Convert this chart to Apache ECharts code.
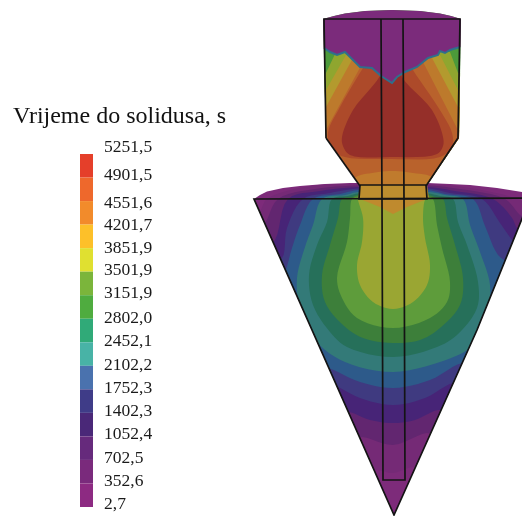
<!DOCTYPE html>
<html>
<head>
<meta charset="utf-8">
<style>html,body{margin:0;padding:0;background:#fff}#c{width:522px;height:516px}</style>
<script src="https://cdn.jsdelivr.net/npm/echarts@6/dist/echarts.min.js"></script>
</head>
<body>
<div id="c"></div>
<script>
// colour scale
const scaleTitle = 'Vrijeme do solidusa, s';
const scaleValues = [5251.5,4901.5,4551.6,4201.7,3851.9,3501.9,3151.9,2802.0,2452.1,2102.2,1752.3,1402.3,1052.4,702.5,352.6,2.7];
const scaleColors = ['#e53f2a','#ee682c','#f28b2b','#fdc029','#e0e030','#7bb53b','#4fac3f','#30aa78','#48b3a6','#4a72ae','#3f3c88','#4a2878','#662a7c','#7a2a7c','#8d2a82'];

// casting outline (section coordinates)
const coneOutline = [[254,199],[260,195],[267,191.5],[283,188],[300,186],[325,184],[350,183],[427,183],[450,184],[470,185],[497,188],[522,192],[530,199],[477,330],[394,515]];
const feederOutline = [[323,19],[334,16],[345,13.5],[365,11],[392,10],[420,11],[440,13.5],[451,16],[461,19],[459,138],[427,185],[360,185],[326,138]];
const neckOutline = [[360,185],[427,185],[429,199],[358,199]];

// isochrone contours of the lower cone, coldest to hottest
const coneColors = ['#7d2b7a','#752a76','#622670','#472477','#3f3a80','#2d5a8a','#337a78','#26705a','#3d7f3a','#5e9c3b','#9aa633','#bf8a2e'];
const cone1 = [[358,184],[310,186],[267,199],[260,211],[245,225],[350,470],[377,470],[393,473],[413,467],[425,470],[535,210],[517,199],[470,188],[428,184]];
const cone2 = [[358,185.5],[315,189],[278,199],[265,223],[250,240],[340,440],[362,437],[393,445],[427,433],[440,436],[535,225],[520,215],[505,199],[460,189],[428,185.5]];
const cone3 = [[358,187],[320,191],[288,199],[275,240],[260,255],[335,415],[348,412],[370,420],[393,423],[415,420],[438,410],[450,412],[530,240],[517,228],[512,218],[493,199],[455,191],[428,187]];
const cone4 = [[358,188.5],[330,193],[303,199],[287,228],[282,258],[270,262],[320,385],[333,385],[360,398],[393,405],[425,398],[453,383],[465,385],[525,255],[512,240],[500,223],[482,199],[450,193],[428,188.5]];
const cone5 = [[358,190],[340,194],[313,199],[300,225],[292,248],[285,272],[275,290],[312,368],[325,367],[360,382],[393,388],[430,380],[462,363],[475,365],[515,270],[498,255],[485,226],[473,199],[445,194],[428,190]];
const cone6 = [[358,192],[345,195],[322,199],[313,225],[305,247],[297,278],[300,308],[317,342],[345,362],[393,372],[440,362],[467,350],[473,342],[487,315],[490,285],[480,252],[470,225],[463,199],[445,195],[428,192]];
const cone7 = [[358,193.5],[348,196],[332,199],[327,222],[317,245],[309,275],[313,305],[330,332],[347,347],[393,357],[437,347],[457,335],[477,308],[478,282],[467,245],[458,222],[453,199],[440,196],[428,193.5]];
const cone8 = [[358,195],[352,197],[342,199],[338,218],[330,245],[322,275],[325,302],[343,325],[363,338],[393,343],[420,340],[440,328],[460,305],[463,278],[455,245],[447,218],[443,199],[435,197],[428,195]];
const cone9 = [[358,196.5],[352,199],[350,218],[347,242],[337,278],[342,298],[357,318],[393,328],[430,318],[447,302],[450,282],[442,248],[437,225],[433,199],[428,196.5]];
const cone10 = [[358,197],[358,200],[363,218],[362,242],[357,265],[360,285],[373,302],[393,309],[413,302],[427,285],[430,265],[425,238],[423,218],[425,200],[428,197]];
const cone11 = [[360,185],[360,199],[380,207],[393,214],[407,207],[427,199],[427,185]];
const coneContours = [coneOutline,cone1,cone2,cone3,cone4,cone5,cone6,cone7,cone8,cone9,cone10,cone11];

// isochrone contours of the feeder, coldest to hottest
const feederColors = ['#4c9a3a','#8fa62f','#b39a2e','#bd7a2c','#b9622c','#ad4a2a','#952f29','#c07b2d'];
const feeder1 = [[336,52],[450,52],[458,73],[470,73],[470,210],[315,210],[315,75],[325,75]];
const feeder2 = [[346,55],[440,55],[458,90],[470,90],[470,210],[315,210],[315,90],[326,90]];
const feeder3 = [[353,58],[432,58],[458,107],[470,107],[470,210],[315,210],[315,107],[326,107]];
const feeder4 = [[362,64],[423,62],[458,130],[470,130],[470,210],[315,210],[315,130],[326,130]];
const feeder5 = [[368,60],[363,68],[340,107],[328,133],[332,150],[345,157],[392,159],[440,157],[452,147],[452,133],[438,107],[413,70],[408,60]];
const feeder6 = [[385,60],[380,76],[353,110],[342,137],[343,146],[350,155],[390,157],[437,154],[443,146],[443,137],[432,110],[402,77],[398,60]];
const feeder7 = [[345,190],[356,177],[372,173],[392,171],[413,173],[432,177],[442,190]];
const feederContours = [feederOutline,feeder1,feeder2,feeder3,feeder4,feeder5,feeder6,feeder7];
const straightFeeder = [1,2,3,4];
const neckColor = '#bd8e2f';

// riser front, where the hot metal meets the cold top
const frontLine = [[324,48],[330,52],[337,55],[345,52],[350,57],[360,67],[372,68],[381,76],[392,83],[397,77],[405,72],[417,67],[428,58],[438,55],[440,51],[445,53],[450,50],[460,47]];
const topCap = [[318,5],[466,5],[466,47]];
const topColor = '#7b2b7b';
const frontColor = '#2f6f8c';

// mesh edges
const edgeFeeder = [[326,138],[324,19],[460,19],[458,138],[426,186]];
const edgeFeederLow = [[326,138],[360,186]];
const edgeSleeve = [[381,19],[382,200],[383,480],[405,480],[404,200],[403,19]];
const edgeNeck = [[360,185],[426,185],[427,199],[359,199],[360,185]];
const edgeCone = [[530,198],[254,199],[394,515],[477,330],[530,199]];
const edges = [edgeFeeder,edgeFeederLow,edgeSleeve,edgeNeck,edgeCone];
const edgeColor = '#141414';

const labelNudge = [-7,-2.5,2,0.5,0,-1.5,-2,-0.5,-1,-0.5,-1,-1.5,-2,-1.5,-2,-3];
const serif = '"Liberation Serif","Times New Roman",serif';

function fmt(v){return v.toFixed(1).replace('.',',');}
// closed centripetal Catmull-Rom through the contour's read points
function smoothClosed(p,steps){
  const out=[],n=p.length;
  const tj=(t,a,b)=>t+Math.max(Math.sqrt(Math.hypot(b[0]-a[0],b[1]-a[1])),1e-3);
  const mix=(a,b,ta,tb,t)=>[(tb-t)/(tb-ta)*a[0]+(t-ta)/(tb-ta)*b[0],(tb-t)/(tb-ta)*a[1]+(t-ta)/(tb-ta)*b[1]];
  for(let i=0;i<n;i++){
    const P0=p[(i-1+n)%n],P1=p[i],P2=p[(i+1)%n],P3=p[(i+2)%n];
    const t0=0,t1=tj(t0,P0,P1),t2=tj(t1,P1,P2),t3=tj(t2,P2,P3);
    for(let s=0;s<steps;s++){
      const t=t1+(t2-t1)*s/steps;
      const A1=mix(P0,P1,t0,t1,t),A2=mix(P1,P2,t1,t2,t),A3=mix(P2,P3,t2,t3,t);
      const B1=mix(A1,A2,t0,t2,t),B2=mix(A2,A3,t1,t3,t);
      out.push(mix(B1,B2,t1,t2,t));
    }
  }
  return out;
}
function clipConvex(subject,clip){
  let cx=0,cy=0;clip.forEach(p=>{cx+=p[0];cy+=p[1];});cx/=clip.length;cy/=clip.length;
  let out=subject;
  for(let i=0;i<clip.length;i++){
    const A=clip[i],B=clip[(i+1)%clip.length];
    const side=p=>(B[0]-A[0])*(p[1]-A[1])-(B[1]-A[1])*(p[0]-A[0]);
    const sg=side([cx,cy])>=0?1:-1;
    const input=out;out=[];
    for(let j=0;j<input.length;j++){
      const P=input[j],Q=input[(j+1)%input.length];
      const dp=side(P)*sg,dq=side(Q)*sg;
      if(dp>=0)out.push(P);
      if((dp>=0)!==(dq>=0)){const t=dp/(dp-dq);out.push([P[0]+t*(Q[0]-P[0]),P[1]+t*(Q[1]-P[1])]);}
    }
    if(!out.length)break;
  }
  return out;
}

const fills=[];
coneContours.forEach((c,i)=>fills.push({pts:i===0?c:clipConvex(i===11?c:smoothClosed(c,6),coneOutline),color:coneColors[i]}));
feederContours.forEach((c,i)=>fills.push({pts:i===0?c:clipConvex(straightFeeder.includes(i)?c:smoothClosed(c,6),feederOutline),color:feederColors[i]}));
fills.push({pts:neckOutline,color:neckColor});
const capPoly=topCap.concat(frontLine.slice().reverse()).concat([[318,48],[318,5]]);
const capIndex=fills.length;
fills.push({pts:clipConvex(capPoly,feederOutline),color:topColor});

function toPts(api,a){return a.map(p=>api.coord(p));}

const scaleSegments=scaleColors.map((c,i)=>[scaleValues[i],scaleValues[i+1],c]);

const option={
  animation:false,
  backgroundColor:'#fff',
  title:{text:scaleTitle,left:13,top:105,textStyle:{fontFamily:serif,fontWeight:'normal',fontSize:24,color:'#111'},padding:0},
  grid:[
    {left:0,top:0,width:522,height:516,show:false},
    {left:80,top:154,width:13,height:353,show:false}
  ],
  xAxis:[
    {type:'value',gridIndex:0,min:0,max:522,show:false},
    {type:'value',gridIndex:1,min:0,max:1,show:false}
  ],
  yAxis:[
    {type:'value',gridIndex:0,min:0,max:516,inverse:true,show:false},
    {type:'value',gridIndex:1,min:2.7,max:5251.5,show:false}
  ],
  series:[
    {type:'custom',xAxisIndex:0,yAxisIndex:0,silent:true,clip:false,z:1,
      data:fills.map((f,i)=>[i]),
      encode:{x:[],y:[]},
      renderItem(params,api){
        const f=fills[api.value(0)];
        const group={type:'group',children:[{type:'polygon',shape:{points:toPts(api,f.pts)},style:{fill:f.color}}]};
        if(api.value(0)===capIndex){
          group.children.push({type:'polyline',shape:{points:toPts(api,frontLine)},style:{fill:'none',stroke:frontColor,lineWidth:2}});
        }
        return group;
      }},
    {type:'custom',xAxisIndex:0,yAxisIndex:0,silent:true,clip:false,z:2,
      data:edges.map((e,i)=>[i]),
      encode:{x:[],y:[]},
      renderItem(params,api){
        return {type:'polyline',shape:{points:toPts(api,edges[api.value(0)])},style:{fill:'none',stroke:edgeColor,lineWidth:1.7}};
      }},
    {type:'custom',xAxisIndex:1,yAxisIndex:1,silent:true,clip:false,z:2,
      data:scaleSegments.map((s,i)=>[i,s[0],s[1]]),
      encode:{y:[1,2]},
      renderItem(params,api){
        const a=api.coord([0,api.value(1)]),b=api.coord([1,api.value(2)]);
        return {type:'rect',shape:{x:a[0],y:a[1],width:b[0]-a[0],height:b[1]-a[1]},style:{fill:scaleSegments[api.value(0)][2]}};
      }},
    {type:'custom',xAxisIndex:1,yAxisIndex:1,silent:true,clip:false,z:2,
      data:scaleValues.map((v,i)=>[i,v]),
      encode:{y:1},
      renderItem(params,api){
        const i=api.value(0),p=api.coord([1,api.value(1)]);
        return {type:'text',style:{x:p[0]+11,y:p[1]+labelNudge[i],text:fmt(api.value(1)),font:'17.5px '+serif,fill:'#1a1a1a',textAlign:'left',textVerticalAlign:'middle'}};
      }}
  ]
};
echarts.init(document.getElementById('c'),null,{renderer:'canvas'}).setOption(option);
</script>
</body>
</html>
